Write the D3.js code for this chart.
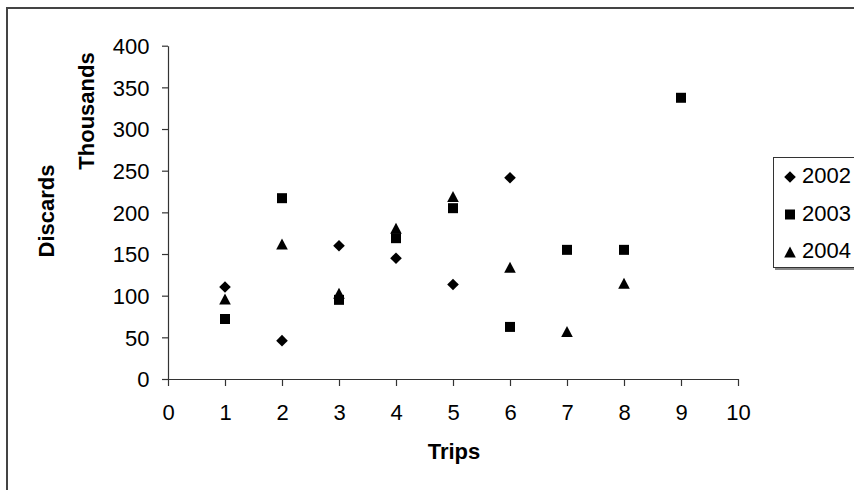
<!DOCTYPE html>
<html><head><meta charset="utf-8">
<script src="https://cdn.jsdelivr.net/npm/d3@7"></script>
<style>html,body{margin:0;padding:0;background:#fff;}svg{display:block;font-family:"Liberation Sans",Arial,sans-serif;}</style>
</head><body>
<svg id="c" width="854" height="490"></svg>
<script>
const seriesNames = ["2002", "2003", "2004"];
const symbols = ["diamond", "square", "triangle"];
const values2002 = [110.5, 46, 160, 145, 113.5, 241.5];
const values2003 = [72, 217, 95, 169, 205, 62.5, 155, 155, 337.5];
const values2004 = [96, 162, 103, 181, 219, 134, 57, 115];
const xTicks = [0,1,2,3,4,5,6,7,8,9,10];
const yTicks = [0,50,100,150,200,250,300,350,400];
const allSeries = [values2002, values2003, values2004];

const svg = d3.select("#c");
const x = d3.scaleLinear().domain([0,10]).range([168,738]);
const y = d3.scaleLinear().domain([0,400]).range([379,45.7]);

// outer chart border
svg.append("rect").attr("x",7).attr("y",8).attr("width",900).attr("height",600)
  .attr("fill","none").attr("stroke","#444").attr("stroke-width",2);

function markerPath(type, cx, cy){
  if(type==="diamond"){const r=5.8;return `M${cx},${cy-r}L${cx+r},${cy}L${cx},${cy+r}L${cx-r},${cy}Z`;}
  if(type==="square"){const r=5;return `M${cx-r},${cy-r}h${2*r}v${2*r}h${-2*r}Z`;}
  const h=5.5;return `M${cx},${cy-h}L${cx+5.8},${cy+h}L${cx-5.8},${cy+h}Z`;
}

// axes
const yAxis = d3.axisLeft(y).tickValues(yTicks).tickSize(6).tickPadding(12.5).tickSizeOuter(0);
const gy = svg.append("g").attr("transform","translate(168,0)").call(yAxis);
const xAxis = d3.axisBottom(x).tickValues(xTicks).tickSize(7).tickPadding(18).tickSizeOuter(0);
const gx = svg.append("g").attr("transform","translate(0,379)").call(xAxis);
[gx,gy].forEach(g=>{
  g.selectAll("path,line").attr("stroke","#333").attr("stroke-width",1.2);
  g.selectAll("text").attr("font-size",22).attr("fill","#000").attr("font-family","Liberation Sans, Arial, sans-serif");
});
gy.selectAll("text").attr("dy","0.35em");

// axis titles
svg.append("text").attr("x",454).attr("y",459).attr("text-anchor","middle")
  .attr("font-size",22).attr("font-weight","bold").text("Trips");
svg.append("text").attr("transform","translate(54,211) rotate(-90)").attr("text-anchor","middle")
  .attr("font-size",22).attr("font-weight","bold").text("Discards");
svg.append("text").attr("transform","translate(94,111) rotate(-90)").attr("text-anchor","middle")
  .attr("font-size",22).attr("font-weight","bold").text("Thousands");

// points
allSeries.forEach((vals,si)=>{
  svg.append("g").selectAll("path").data(vals).join("path")
    .attr("d",(v,i)=>markerPath(symbols[si], x(i+1), y(v)))
    .attr("fill","#000");
});

// legend
const lg = svg.append("g");
lg.append("rect").attr("x",775).attr("y",159).attr("width",120).attr("height",111).attr("fill","#888");
lg.append("rect").attr("x",773.5).attr("y",157.5).attr("width",120).attr("height",110)
  .attr("fill","#fff").attr("stroke","#333").attr("stroke-width",1);
seriesNames.forEach((n,i)=>{
  const cy = 177 + i*37.5;
  lg.append("path").attr("d",markerPath(symbols[i],790,cy)).attr("fill","#000");
  lg.append("text").attr("x",802).attr("y",cy-1.5).attr("dy","0.35em").attr("font-size",22).text(n);
});
</script>
</body></html>
